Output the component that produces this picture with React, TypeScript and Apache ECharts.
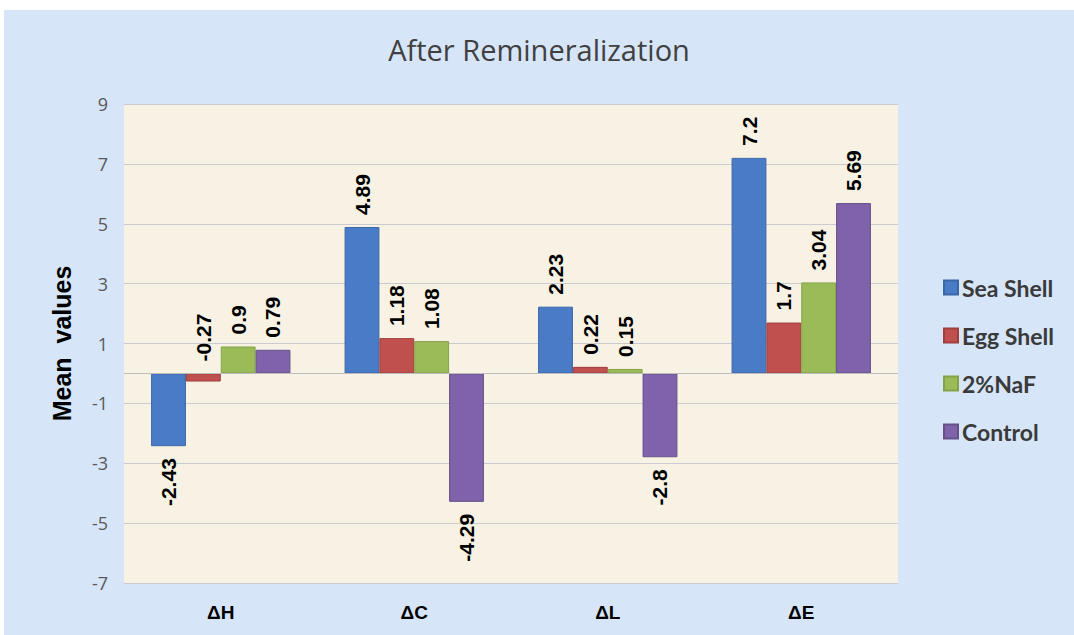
import React, { useEffect, useRef } from "react";
import * as echarts from "echarts";

const categories = ["ΔH", "ΔC", "ΔL", "ΔE"];
const seriesNames = ["Sea Shell", "Egg Shell", "2%NaF", "Control"];
const seaShell = [-2.43, 4.89, 2.23, 7.2];
const eggShell = [-0.27, 1.18, 0.22, 1.7];
const naf = [0.9, 1.08, 0.15, 3.04];
const control = [0.79, -4.29, -2.8, 5.69];
const yMin = -7;
const yMax = 9;
const yInterval = 2;

const colors = ["#4a7bc7", "#c0504d", "#9bbb59", "#7f62a9"];
const borders = ["#3b66a8", "#a03f3c", "#84a348", "#66508a"];

export default function App() {
  const ref = useRef<HTMLDivElement>(null);
  useEffect(() => {
    if (!ref.current) return;
    const chart = echarts.init(ref.current, null, { renderer: "svg" });
    const all = [seaShell, eggShell, naf, control];
    const series = all.map((vals, i) => ({
      type: "bar",
      name: seriesNames[i],
      barGap: "0%",
      barCategoryGap: "28%",
      itemStyle: { color: colors[i], borderColor: borders[i], borderWidth: 1 },
      data: vals.map((v) => ({
        value: v,
        label: {
          position: v < -1 ? "bottom" : "top",
          align: v < -1 ? "right" : "left",
        },
      })),
      label: {
        show: true,
        rotate: 90,
        verticalAlign: "middle",
        distance: 12,
        formatter: "{c}",
        color: "#000",
        fontFamily: "Liberation Sans",
        fontWeight: "bold",
        fontSize: 21,
      },
      markLine:
        i === 0
          ? {
              silent: true,
              symbol: "none",
              label: { show: false },
              lineStyle: { color: "#bdbdbd", type: "solid", width: 1 },
              data: [{ yAxis: 0 }],
            }
          : undefined,
    }));
    chart.setOption({
      animation: false,
      backgroundColor: "#d6e5f7",
      color: colors,
      title: {
        text: "After Remineralization",
        left: "center",
        top: 20,
        textStyle: {
          fontFamily: "Open Sans",
          fontWeight: "normal",
          fontSize: 29,
          color: "#404040",
        },
      },
      legend: {
        orient: "vertical",
        left: 934,
        top: 261,
        itemWidth: 14,
        itemHeight: 14,
        itemGap: 25,
        icon: "rect",
        data: seriesNames,
        textStyle: {
          fontFamily: "Lato",
          fontWeight: "bold",
          fontSize: 23,
          lineHeight: 22,
          color: "#3a3a3a",
          padding: [0, 0, 0, -1],
        },
      },
      grid: {
        left: 120,
        top: 94,
        width: 774,
        height: 479,
        show: true,
        backgroundColor: "#f7f2e3",
        borderWidth: 0,
      },
      xAxis: {
        type: "category",
        data: categories,
        axisLine: { show: false, onZero: false },
        axisTick: { show: false },
        axisLabel: {
          margin: 20,
          fontFamily: "Liberation Sans",
          fontWeight: "bold",
          fontSize: 19,
          color: "#000",
        },
      },
      yAxis: {
        type: "value",
        min: yMin,
        max: yMax,
        interval: yInterval,
        name: "Mean  values",
        nameLocation: "middle",
        nameGap: 50,
        nameTextStyle: {
          fontFamily: "Liberation Sans",
          fontWeight: "bold",
          fontSize: 25,
          color: "#000",
        },
        axisLine: { show: false },
        axisTick: { show: false },
        axisLabel: {
          margin: 16,
          fontFamily: "Open Sans",
          fontSize: 18,
          color: "#595959",
        },
        splitLine: { lineStyle: { color: "#cbcbcf", width: 1 } },
      },
      series,
    });
    return () => chart.dispose();
  }, []);
  return (
    <div style={{ position: "fixed", left: 0, top: 0, width: 1074, height: 635, background: "#ffffff" }}>
      <div ref={ref} style={{ position: "absolute", left: 4, top: 10, width: 1070, height: 625 }} />
    </div>
  );
}
